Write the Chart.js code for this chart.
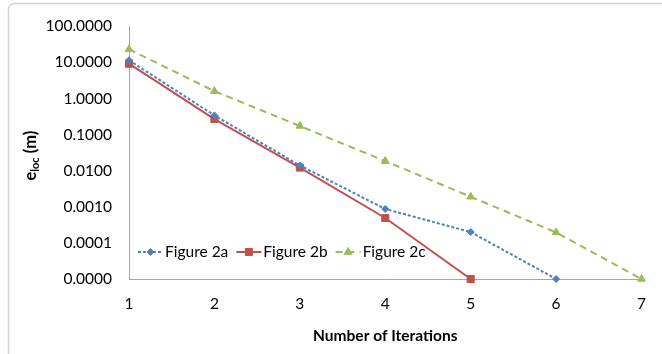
<!DOCTYPE html>
<html>
<head>
<meta charset="utf-8">
<script src="https://cdn.jsdelivr.net/npm/chart.js@4.4.0/dist/chart.umd.min.js"></script>
<style>
    html, body { margin: 0; padding: 0; background: #fff; }
    #wrap { position: relative; width: 662px; height: 354px; }
</style>
</head>
<body>
<div id="wrap"><canvas id="chart" width="662" height="354"></canvas></div>
<script>
// Chart data
const iterations = ['1', '2', '3', '4', '5', '6', '7'];
const figure2a = [11.5, 0.34, 0.014, 0.00087, 0.0002, 0.00001];
const figure2b = [9.2, 0.27, 0.0122, 0.00049, 0.00001];
const figure2c = [23, 1.6, 0.173, 0.0184, 0.0019, 0.000195, 0.00001];
const yTickValues = [100, 10, 1, 0.1, 0.01, 0.001, 0.0001, 0.00001];
const yTickLabels = ['100.0000', '10.0000', '1.0000', '0.1000', '0.0100', '0.0010', '0.0001', '0.0000'];

const FONT = 'Lato';
const AXIS_GRAY = '#a6a6a6';

// Frame round the whole chart (only top and left edges show)
const framePlugin = {
    id: 'frame',
    beforeDraw(chart) {
        const ctx = chart.ctx;
        ctx.save();
        ctx.fillStyle = '#fff';
        ctx.fillRect(0, 0, chart.width, chart.height);
        ctx.strokeStyle = '#d4d4d4';
        ctx.lineWidth = 1.5;
        ctx.beginPath();
        ctx.roundRect(8.5, 3.5, 700, 400, 6);
        ctx.stroke();
        ctx.restore();
    }
};

// Y axis title with subscript
const yTitlePlugin = {
    id: 'yTitle',
    afterDraw(chart) {
        const ctx = chart.ctx;
        const area = chart.chartArea;
        const big = 'bold 16.5px ' + FONT;
        const small = 'bold 11px ' + FONT;
        ctx.save();
        ctx.font = big;
        const wE = ctx.measureText('e').width;
        const wM = ctx.measureText(' (m)').width;
        ctx.font = small;
        const wL = ctx.measureText('loc').width;
        const total = wE + wL + wM;
        ctx.translate(36, (area.top + area.bottom) / 2 + 3);
        ctx.rotate(-Math.PI / 2);
        ctx.fillStyle = '#000';
        ctx.textBaseline = 'alphabetic';
        let x = -total / 2;
        ctx.font = big;
        ctx.fillText('e', x, 0);
        x += wE;
        ctx.font = small;
        ctx.fillText('loc', x, 3);
        x += wL;
        ctx.font = big;
        ctx.fillText(' (m)', x, 0);
        ctx.restore();
    }
};

// Legend inside the plot area: line sample with marker, then label
const insideLegendPlugin = {
    id: 'insideLegend',
    afterDraw(chart) {
        const ctx = chart.ctx;
        const y = 252;
        let x = 138;
        ctx.save();
        ctx.font = '15.5px ' + FONT;
        ctx.textBaseline = 'middle';
        chart.data.datasets.forEach(ds => {
            ctx.strokeStyle = ds.borderColor;
            ctx.lineWidth = ds.borderWidth;
            ctx.setLineDash(ds.borderDash || []);
            ctx.beginPath();
            ctx.moveTo(x, y);
            ctx.lineTo(x + 25, y);
            ctx.stroke();
            ctx.setLineDash([]);
            ctx.fillStyle = ds.backgroundColor;
            ctx.strokeStyle = ds.borderColor;
            ctx.lineWidth = 1;
            Chart.helpers.drawPoint(ctx, {
                pointStyle: ds.pointStyle,
                radius: ds.pointRadius,
                rotation: 0,
                borderWidth: 1
            }, x + 12.5, y);
            ctx.fillStyle = '#000';
            ctx.fillText(ds.label, x + 27, y);
            x += 27 + ctx.measureText(ds.label).width + 8;
        });
        ctx.restore();
    }
};

const ctx = document.getElementById('chart').getContext('2d');
new Chart(ctx, {
    type: 'line',
    data: {
        labels: iterations,
        datasets: [
            {
                label: 'Figure 2a',
                data: figure2a,
                borderColor: '#4F81BD',
                backgroundColor: '#4F81BD',
                borderWidth: 2,
                borderDash: [3, 2],
                pointStyle: 'rectRot',
                pointRadius: 3.5,
                pointBorderWidth: 1,
                tension: 0,
                clip: false
            },
            {
                label: 'Figure 2b',
                data: figure2b,
                borderColor: '#C0504D',
                backgroundColor: '#C0504D',
                borderWidth: 2,
                pointStyle: 'rect',
                pointRadius: 5,
                pointBorderWidth: 1,
                tension: 0,
                clip: false
            },
            {
                label: 'Figure 2c',
                data: figure2c,
                borderColor: '#9BBB59',
                backgroundColor: '#9BBB59',
                borderWidth: 2,
                borderDash: [7, 5],
                pointStyle: 'triangle',
                pointRadius: 4.5,
                pointBorderWidth: 1,
                tension: 0,
                clip: false
            }
        ]
    },
    options: {
        responsive: false,
        animation: false,
        layout: { padding: { top: 18, right: 14, left: 0, bottom: 0 } },
        plugins: {
            legend: { display: false },
            tooltip: { enabled: false }
        },
        scales: {
            x: {
                type: 'category',
                offset: false,
                grid: { display: false, drawTicks: false },
                border: { display: true, color: AXIS_GRAY, width: 1 },
                ticks: { color: '#000', font: { family: FONT, size: 15.5 }, padding: 16, maxRotation: 0 },
                title: {
                    display: true,
                    text: 'Number of Iterations',
                    color: '#000',
                    font: { family: FONT, size: 15.5, weight: 'bold' },
                    padding: { top: 0, bottom: 9 }
                },
                afterFit(scale) { scale.height = 75; }
            },
            y: {
                type: 'logarithmic',
                min: 0.00001,
                max: 100,
                grid: { display: false, drawTicks: false },
                border: { display: true, color: AXIS_GRAY, width: 1 },
                ticks: {
                    color: '#000',
                    font: { family: FONT, size: 15.5 },
                    padding: 17,
                    callback: (value) => yTickLabels[yTickValues.indexOf(value)]
                },
                afterBuildTicks(scale) {
                    scale.ticks = yTickValues.map(v => ({ value: v }));
                },
                afterFit(scale) { scale.width = 129; }
            }
        }
    },
    plugins: [framePlugin, yTitlePlugin, insideLegendPlugin]
});
</script>
</body>
</html>
